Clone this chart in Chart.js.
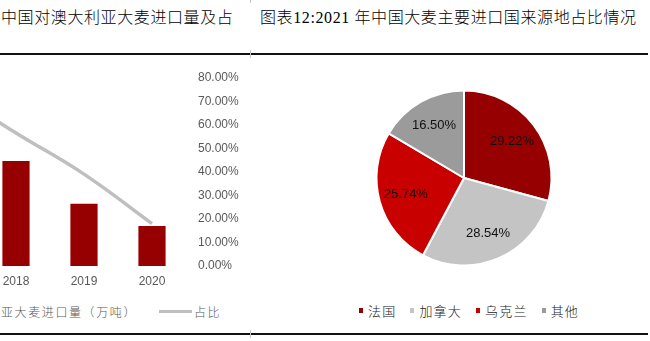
<!DOCTYPE html>
<html>
<head>
<meta charset="utf-8">
<script src="https://cdn.jsdelivr.net/npm/chart.js@4.4.1/dist/chart.umd.min.js"></script>
<style>
  html, body { margin: 0; padding: 0; background: #fff; }
  body { width: 650px; height: 341px; position: relative; overflow: hidden; }
  .title {
    position: absolute; top: 7px; height: 22px; line-height: 22px; white-space: nowrap;
    font-family: "Liberation Serif", "Noto Sans CJK SC", serif; font-size: 16px; font-weight: 300;
    letter-spacing: 0.6px; color: #000;
  }
  .rule { position: absolute; height: 2px; background: #111; }
  .tick { position: absolute; width: 1px; background: #c8c8c8; }
  #leftPanel { position: absolute; left: 0; top: 0; width: 249px; height: 341px; overflow: hidden; }
  #volumeCanvas { position: absolute; left: -86px; top: 57px; }
  #shareCanvas { position: absolute; left: 364px; top: 78px; }
  .legend {
    position: absolute; display: flex; align-items: center; white-space: nowrap;
    font-family: "Noto Sans CJK SC", sans-serif; font-weight: 300;
  }
  #leftLegend { left: 1px; top: 302px; height: 18px; font-size: 12px; letter-spacing: 1.6px; color: #595959; }
  #leftLegend .line { width: 33px; height: 3px; background: #bfbfbf; margin: 0 2px 0 22px; }
  #pieLegend { left: 359px; top: 301px; height: 18px; font-size: 13px; letter-spacing: 1.2px; color: #222; }
  #pieLegend .item { display: flex; align-items: center; margin-right: 14px; }
  #pieLegend .box { width: 4px; height: 5px; margin-right: 5px; }
</style>
</head>
<body>
<div id="leftPanel">
  <div class="title" style="left:1px;">中国对澳大利亚大麦进口量及占</div>
  <canvas id="volumeCanvas" width="335" height="245"></canvas>
  <div id="leftLegend" class="legend"><span>亚大麦进口量（万吨）</span><span class="line"></span><span>占比</span></div>
</div>
<div class="title" style="left:260px;">图表12:2021 年中国大麦主要进口国来源地占比情况</div>
<div class="rule" style="left:0; width:648px; top:53px;"></div>
<div class="rule" style="left:0; width:648px; top:333px;"></div>
<div class="tick" style="left:250px; top:0; height:3px;"></div>
<div class="tick" style="left:250px; top:50px; height:8px;"></div>
<div class="tick" style="left:250px; top:330px; height:8px;"></div>
<canvas id="shareCanvas" width="200" height="200"></canvas>
<div id="pieLegend" class="legend"></div>

<script>
// China's barley imports from Australia, by year
const years = ['2017', '2018', '2019', '2020'];
const importVolume = [640, 391, 232, 149];      // 万吨
const australiaShare = [75.0, 56.6, 39.1, 18.0]; // % of total barley imports
const shareAxisMin = 0, shareAxisMax = 80, shareAxisStep = 10;

// 2021 barley import sources
const origins = ['法国', '加拿大', '乌克兰', '其他'];
const originShares = [29.22, 28.54, 25.74, 16.50];

const originColors = ['#960000', '#c4c4c4', '#c80000', '#9b9b9b'];
const axisFont = { family: '"Liberation Sans", Arial, sans-serif', size: 12 };

new Chart(document.getElementById('volumeCanvas'), {
  data: {
    labels: years,
    datasets: [
      {
        type: 'line', label: '占比', data: australiaShare, yAxisID: 'y1', order: 0,
        borderColor: '#bfbfbf', borderWidth: 3.5, pointRadius: 0, tension: 0.4, fill: false
      },
      {
        type: 'bar', label: '中国对澳大利亚大麦进口量（万吨）', data: importVolume, yAxisID: 'y', order: 1,
        backgroundColor: '#960000', borderWidth: 0, categoryPercentage: 1, barPercentage: 0.4
      }
    ]
  },
  options: {
    responsive: false, animation: false,
    layout: { padding: { top: 21, left: 0, right: 0, bottom: 0 } },
    plugins: { legend: { display: false }, tooltip: { enabled: false } },
    scales: {
      x: {
        grid: { display: false, drawTicks: false }, border: { display: false },
        ticks: { color: '#595959', font: axisFont, padding: 8 },
        afterFit(s) { s.height = 36; }
      },
      y: { display: false, min: 0, max: 700 },
      y1: {
        position: 'right', min: shareAxisMin, max: shareAxisMax,
        grid: { display: false, drawTicks: false }, border: { display: false },
        ticks: {
          stepSize: shareAxisStep, color: '#595959', font: axisFont, padding: 12,
          callback: v => v.toFixed(2) + '%'
        },
        afterFit(s) { s.width = 63; }
      }
    }
  }
});

// Percentage text placed inside each slice
const sliceLabels = {
  id: 'sliceLabels',
  afterDatasetsDraw(chart) {
    const ctx = chart.ctx;
    const meta = chart.getDatasetMeta(0);
    const values = chart.data.datasets[0].data;
    ctx.save();
    ctx.font = '13px "Liberation Sans", Arial, sans-serif';
    ctx.fillStyle = '#111';
    ctx.textAlign = 'center';
    ctx.textBaseline = 'middle';
    meta.data.forEach((arc, i) => {
      const p = arc.getProps(['x', 'y', 'startAngle', 'endAngle', 'outerRadius'], true);
      const mid = (p.startAngle + p.endAngle) / 2;
      const r = p.outerRadius * 0.69;
      ctx.fillText(values[i].toFixed(2) + '%', p.x + Math.cos(mid) * r, p.y + Math.sin(mid) * r);
    });
    ctx.restore();
  }
};

new Chart(document.getElementById('shareCanvas'), {
  type: 'pie',
  data: {
    labels: origins,
    datasets: [{
      data: originShares, backgroundColor: originColors,
      borderColor: '#ffffff', borderWidth: 2, radius: 87.5
    }]
  },
  options: {
    responsive: false, animation: false,
    plugins: { legend: { display: false }, tooltip: { enabled: false } }
  },
  plugins: [sliceLabels]
});

// Legend for the pie chart
const pieLegend = document.getElementById('pieLegend');
origins.forEach((name, i) => {
  const item = document.createElement('span');
  item.className = 'item';
  const box = document.createElement('span');
  box.className = 'box';
  box.style.background = originColors[i];
  const text = document.createElement('span');
  text.textContent = name;
  item.appendChild(box);
  item.appendChild(text);
  pieLegend.appendChild(item);
});
</script>
</body>
</html>
